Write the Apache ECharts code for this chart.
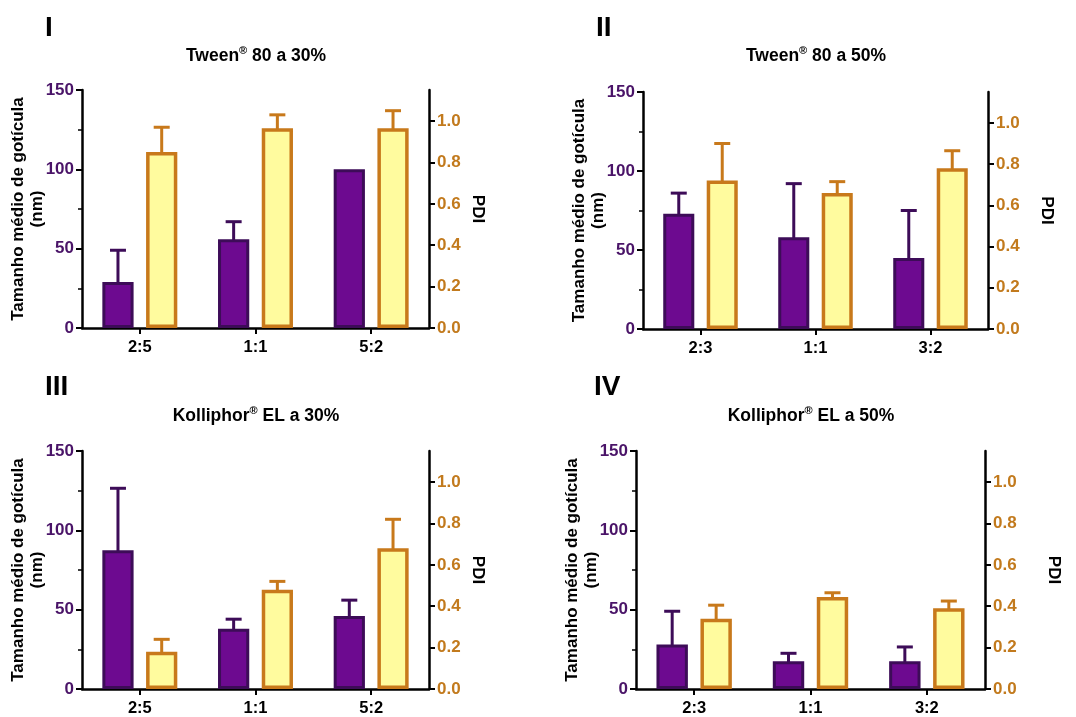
<!DOCTYPE html>
<html>
<head>
<meta charset="utf-8">
<script src="https://cdn.jsdelivr.net/npm/echarts@6/dist/echarts.min.js"></script>
<style>
html,body{margin:0;padding:0;background:#fff;}
#chart{width:1076px;height:717px;}
</style>
</head>
<body>
<div id="chart"></div>
<script>
// ---- data ----
const catsA = ['2:5', '1:1', '5:2'];
const catsB = ['2:3', '1:1', '3:2'];

const sizeI = [29, 56, 100];
const sizeErrI = [20, 11, 0];
const pdiI = [0.85, 0.965, 0.965];
const pdiErrI = [0.12, 0.065, 0.085];

const sizeII = [73, 58, 45];
const sizeErrII = [13, 34, 30];
const pdiII = [0.72, 0.66, 0.78];
const pdiErrII = [0.18, 0.055, 0.085];

const sizeIII = [87.5, 38, 46];
const sizeErrIII = [39, 6, 10];
const pdiIII = [0.18, 0.48, 0.68];
const pdiErrIII = [0.06, 0.04, 0.14];

const sizeIV = [28, 17.5, 17.5];
const sizeErrIV = [21, 5, 9];
const pdiIV = [0.34, 0.445, 0.39];
const pdiErrIV = [0.065, 0.02, 0.035];

const sizeTicks = [0, 50, 100, 150];
const pdiTicks = [0, 0.2, 0.4, 0.6, 0.8, 1.0];

const panelNumerals = ['I', 'II', 'III', 'IV'];
const panelTitles = [
  ['Tween', '80 a 30%'],
  ['Tween', '80 a 50%'],
  ['Kolliphor', 'EL a 30%'],
  ['Kolliphor', 'EL a 50%']
];
const sizeAxisName = 'Tamanho médio de gotícula\n(nm)';
const pdiAxisName = 'PDI';

// ---- layout / style ----
const FONT = 'Liberation Sans, Arial, sans-serif';
const PURPLE = '#6d0a90', PURPLE_EDGE = '#3d0c58';
const YELLOW = '#fffb9e', ORANGE = '#c8791b';
const SIZE_LABEL = '#4a1468', PDI_LABEL = '#c27a1d';
const BAR_FRAC = 0.27, GAP_FRAC = 0.4;

const grids = [
  {left: 82, top: 90, width: 347, height: 238},
  {left: 643, top: 92, width: 345, height: 237},
  {left: 82, top: 451, width: 347, height: 238},
  {left: 636, top: 451, width: 349, height: 239}
];
const pdiNameGaps = [40, 50, 40, 60];
const numeralPos = [[45, 28], [596, 28], [45, 387], [594, 387]];
const titlePos = [[256, 56], [816, 56], [256, 416], [811, 416]];

const panelData = [
  {cats: catsA, size: sizeI, sizeErr: sizeErrI, pdi: pdiI, pdiErr: pdiErrI},
  {cats: catsB, size: sizeII, sizeErr: sizeErrII, pdi: pdiII, pdiErr: pdiErrII},
  {cats: catsA, size: sizeIII, sizeErr: sizeErrIII, pdi: pdiIII, pdiErr: pdiErrIII},
  {cats: catsB, size: sizeIV, sizeErr: sizeErrIV, pdi: pdiIV, pdiErr: pdiErrIV}
];

function errSeries(xIdx, yIdx, vals, errs, side, color) {
  return {
    type: 'custom',
    xAxisIndex: xIdx,
    yAxisIndex: yIdx,
    z: 1,
    silent: true,
    data: vals.map((v, i) => [i, v, v + errs[i], errs[i]]),
    renderItem: function (params, api) {
      if (api.value(3) <= 0) return null;
      const band = api.size([1, 0])[0];
      const w = band * BAR_FRAC;
      const off = side * (w + w * GAP_FRAC) / 2;
      const p0 = api.coord([api.value(0), api.value(1)]);
      const p1 = api.coord([api.value(0), api.value(2)]);
      const x = p0[0] + off;
      const cap = 8;
      return {
        type: 'group',
        children: [
          {type: 'line', shape: {x1: x, y1: p0[1] + 2, x2: x, y2: p1[1]}, style: {stroke: color, lineWidth: 3}},
          {type: 'line', shape: {x1: x - cap, y1: p1[1], x2: x + cap, y2: p1[1]}, style: {stroke: color, lineWidth: 3}}
        ]
      };
    }
  };
}

const option = {
  animation: false,
  backgroundColor: '#fff',
  grid: grids.map(g => Object.assign({containLabel: false}, g)),
  xAxis: [],
  yAxis: [],
  series: [],
  graphic: []
};

panelData.forEach((p, k) => {
  option.xAxis.push({
    type: 'category',
    gridIndex: k,
    data: p.cats,
    boundaryGap: true,
    axisLine: {show: true, lineStyle: {color: '#000', width: 2.5}},
    axisTick: {show: true, alignWithLabel: true, length: 6, lineStyle: {color: '#000', width: 2}},
    axisLabel: {color: '#000', fontFamily: FONT, fontWeight: 'bold', fontSize: 16.5, margin: 11},
    splitLine: {show: false}
  });
  option.yAxis.push({
    type: 'value',
    gridIndex: k,
    position: 'left',
    min: sizeTicks[0],
    max: sizeTicks[sizeTicks.length - 1],
    interval: sizeTicks[1] - sizeTicks[0],
    name: sizeAxisName,
    nameLocation: 'middle',
    nameRotate: 90,
    nameGap: 35,
    nameMoveOverlap: false,
    nameTextStyle: {color: '#000', fontFamily: FONT, fontWeight: 'bold', fontSize: 17, lineHeight: 19},
    axisLine: {show: true, lineStyle: {color: '#000', width: 2.5}},
    axisTick: {show: true, length: 6, lineStyle: {color: '#000', width: 2}},
    minorTick: {show: true, splitNumber: 2, length: 4, lineStyle: {color: '#000', width: 1.5}},
    axisLabel: {color: SIZE_LABEL, fontFamily: FONT, fontWeight: 'bold', fontSize: 17, margin: 8},
    splitLine: {show: false},
    minorSplitLine: {show: false}
  });
  option.yAxis.push({
    type: 'value',
    gridIndex: k,
    position: 'right',
    min: 0,
    max: 1.15,
    interval: 0.2,
    name: pdiAxisName,
    nameLocation: 'middle',
    nameRotate: -90,
    nameGap: pdiNameGaps[k],
    nameTextStyle: {color: '#000', fontFamily: FONT, fontWeight: 'bold', fontSize: 17},
    axisLine: {show: true, lineStyle: {color: '#000', width: 2.5}},
    axisTick: {show: true, length: 6, customValues: pdiTicks, lineStyle: {color: '#000', width: 2}},
    axisLabel: {color: PDI_LABEL, fontFamily: FONT, fontWeight: 'bold', fontSize: 17, margin: 8,
      customValues: pdiTicks, formatter: v => v.toFixed(1)},
    splitLine: {show: false}
  });
  const yL = 2 * k, yR = 2 * k + 1;
  option.series.push({
    type: 'bar',
    xAxisIndex: k,
    yAxisIndex: yL,
    data: p.size,
    barWidth: (BAR_FRAC * 100) + '%',
    barGap: (GAP_FRAC * 100) + '%',
    z: 2,
    itemStyle: {color: PURPLE, borderColor: PURPLE_EDGE, borderWidth: 3}
  });
  option.series.push({
    type: 'bar',
    xAxisIndex: k,
    yAxisIndex: yR,
    data: p.pdi,
    barWidth: (BAR_FRAC * 100) + '%',
    barGap: (GAP_FRAC * 100) + '%',
    z: 2,
    itemStyle: {color: YELLOW, borderColor: ORANGE, borderWidth: 3.5}
  });
  option.series.push(errSeries(k, yL, p.size, p.sizeErr, -1, PURPLE_EDGE));
  option.series.push(errSeries(k, yR, p.pdi, p.pdiErr, 1, ORANGE));

  option.graphic.push({
    type: 'text',
    x: numeralPos[k][0],
    y: numeralPos[k][1],
    style: {text: panelNumerals[k], fontFamily: FONT, fontWeight: 'bold', fontSize: 28, fill: '#000',
      align: 'left', verticalAlign: 'middle'}
  });
  option.graphic.push({
    type: 'text',
    x: titlePos[k][0],
    y: titlePos[k][1],
    style: {
      text: '{b|' + panelTitles[k][0] + '}{s|®}{b| ' + panelTitles[k][1] + '}',
      align: 'center',
      verticalAlign: 'middle',
      rich: {
        b: {fontFamily: FONT, fontWeight: 'bold', fontSize: 17.5, lineHeight: 21, fill: '#000', color: '#000'},
        s: {fontFamily: FONT, fontWeight: 'bold', fontSize: 11, lineHeight: 11, verticalAlign: 'top', fill: '#000', color: '#000'}
      }
    }
  });
});

const chart = echarts.init(document.getElementById('chart'), null, {renderer: 'canvas'});
chart.setOption(option);
</script>
</body>
</html>
